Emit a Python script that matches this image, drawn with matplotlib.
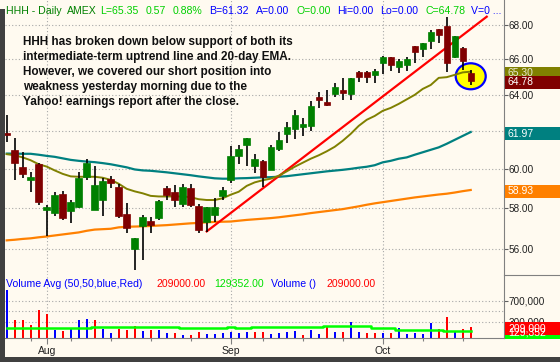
import numpy as np
import pandas as pd
import matplotlib
matplotlib.use("Agg")
import matplotlib.pyplot as plt
from matplotlib.patches import Rectangle, Ellipse
from matplotlib.lines import Line2D
from matplotlib.transforms import IdentityTransform
from matplotlib.ticker import FixedLocator, NullLocator, FuncFormatter

# trading days, Jul 25 - Oct 16 2007 (Labor Day closed)
dates = pd.bdate_range("2007-07-25", "2007-10-16").drop(pd.Timestamp("2007-09-03"))

opens = [61.94, 61.02, 60.13, 59.46, 60.26, 57.94, 57.79, 58.71, 57.89, 58.05,
         59.62, 57.93, 58.43, 59.51, 59.08, 57.73, 56.00, 57.12, 57.38, 57.51,
         59.04, 58.84, 58.21, 59.03, 58.11, 57.31, 57.64, 58.60, 59.42, 60.67,
         61.30, 60.19, 60.43, 59.97, 61.05, 61.87, 62.14, 62.25, 62.30, 63.90,
         63.63, 64.03, 64.28, 64.03, 65.30, 65.30, 65.12, 65.78, 66.12, 65.58,
         65.68, 66.77, 66.58, 67.08, 67.75, 67.94, 66.12, 66.67, 65.24]
highs = [62.90, 61.64, 60.91, 59.88, 60.32, 58.18, 58.85, 58.89, 58.40, 59.87,
         60.55, 60.18, 59.57, 59.66, 59.25, 58.27, 56.55, 57.66, 57.58, 58.43,
         59.14, 59.20, 59.22, 59.25, 58.23, 58.09, 58.52, 59.08, 61.23, 61.28,
         61.67, 60.81, 60.49, 61.28, 61.99, 62.53, 63.17, 62.72, 63.67, 64.18,
         64.28, 64.68, 64.93, 64.95, 65.32, 65.36, 65.46, 66.20, 66.15, 66.01,
         66.12, 66.80, 66.96, 67.71, 67.78, 68.49, 67.35, 66.73, 65.40]
lows = [61.41, 59.45, 59.57, 58.85, 58.18, 56.64, 57.63, 57.43, 57.29, 58.01,
        59.42, 57.90, 57.63, 59.03, 57.54, 56.78, 54.99, 55.44, 56.78, 57.40,
        58.43, 58.06, 58.09, 58.09, 56.77, 56.80, 57.34, 58.43, 59.28, 60.28,
        60.18, 59.83, 59.08, 59.95, 60.98, 61.38, 61.59, 61.76, 62.05, 63.27,
        63.39, 63.87, 63.72, 63.72, 64.72, 64.65, 64.65, 65.17, 65.36, 65.24,
        65.36, 65.78, 66.12, 66.58, 66.93, 65.30, 66.10, 65.40, 64.55]
closes = [61.82, 60.30, 59.73, 59.58, 58.30, 58.08, 58.69, 57.54, 58.32, 59.57,
          60.35, 59.20, 59.37, 59.31, 57.63, 57.02, 56.53, 57.56, 57.18, 58.38,
          58.67, 58.42, 59.08, 58.19, 56.90, 58.08, 58.08, 58.94, 60.67, 61.07,
          61.66, 60.55, 59.62, 61.19, 61.55, 62.23, 62.90, 62.41, 63.39, 63.69,
          63.43, 64.43, 64.12, 64.93, 65.02, 65.02, 65.34, 66.16, 65.68, 65.93,
          66.04, 66.45, 66.93, 67.61, 67.41, 65.81, 67.35, 65.91, 64.78]

ema20 = [60.79, 60.73, 60.62, 60.47, 60.26, 60.14, 59.94, 59.76, 59.63, 59.61,
         59.61, 59.61, 59.56, 59.45, 59.25, 58.99, 58.86, 58.76, 58.63, 58.60,
         58.60, 58.60, 58.60, 58.56, 58.46, 58.42, 58.42, 58.51, 58.69, 58.84,
         59.14, 59.32, 59.43, 59.51, 59.66, 59.89, 60.13, 60.34, 60.55, 60.73,
         60.94, 61.18, 61.50, 61.87, 62.30, 62.63, 62.84, 63.12, 63.28, 63.50,
         63.75, 64.00, 64.33, 64.55, 64.95, 64.99, 65.12, 65.26, 65.30]
sma50 = [60.82, 60.82, 60.81, 60.81, 60.76, 60.70, 60.65, 60.57, 60.49, 60.44,
         60.40, 60.37, 60.32, 60.26, 60.18, 60.10, 59.99, 59.94, 59.92, 59.88,
         59.84, 59.79, 59.74, 59.69, 59.63, 59.58, 59.53, 59.51, 59.51, 59.53,
         59.54, 59.56, 59.58, 59.59, 59.61, 59.64, 59.69, 59.74, 59.79, 59.84,
         59.89, 59.93, 59.97, 60.02, 60.08, 60.13, 60.21, 60.36, 60.44, 60.55,
         60.62, 60.76, 60.89, 61.02, 61.15, 61.34, 61.55, 61.76, 61.97]
sma200 = [56.41, 56.44, 56.48, 56.51, 56.56, 56.60, 56.65, 56.70, 56.75, 56.80,
          56.88, 56.94, 56.96, 56.98, 57.05, 57.08, 57.09, 57.10, 57.12, 57.14,
          57.16, 57.19, 57.22, 57.25, 57.27, 57.30, 57.32, 57.33, 57.34, 57.38,
          57.42, 57.45, 57.48, 57.51, 57.55, 57.60, 57.65, 57.70, 57.76, 57.81,
          57.86, 57.91, 57.96, 58.03, 58.10, 58.18, 58.25, 58.31, 58.37, 58.43,
          58.49, 58.55, 58.60, 58.65, 58.70, 58.74, 58.80, 58.87, 58.93]

trend_x = [25, 60]
trend_y = [56.85, 68.49]

volume = [907000, 334000, 334000, 233000, 523000, 454000, 151000, 120000, 170000, 334000,
          346000, 334000, 170000, 82000, 170000, 139000, 214000, 120000, 139000, 139000,
          95000, 95000, 50000, 50000, 113000, 63000, 63000, 82000, 113000, 95000,
          113000, 113000, 108000, 70000, 83000, 102000, 132000, 51000, 146000, 70000,
          221000, 108000, 108000, 297000, 108000, 95000, 83000, 83000, 95000, 178000,
          70000, 95000, 70000, 284000, 159000, 397000, 121000, 159000, 209000]
vol_up = [1, 0, 0, 0, 0, 0, 1, 0, 1, 1, 1, 0, 1, 1, 0, 0, 0, 1, 0, 1,
          1, 0, 1, 0, 0, 1, 1, 1, 1, 1, 1, 0, 0, 1, 1, 1, 1, 0, 1, 1,
          0, 1, 0, 1, 1, 0, 0, 1, 0, 1, 1, 1, 1, 1, 0, 0, 1, 0, 0]
vol_avg = [178000, 178000, 178000, 178000, 178000, 178000, 178000, 178000, 178000, 178000,
           178000, 208000, 208000, 208000, 208000, 208000, 208000, 208000, 208000, 208000,
           208000, 208000, 178000, 178000, 178000, 178000, 178000, 178000, 208000, 178000,
           178000, 208000, 208000, 208000, 208000, 208000, 208000, 208000, 208000, 208000,
           227000, 227000, 227000, 227000, 227000, 227000, 178000, 178000, 178000, 146000,
           146000, 146000, 146000, 146000, 146000, 132000, 132000, 130000, 129352]

price_ticks = [56, 58, 60, 62, 64, 66, 68]
vol_ticks = [300000, 700000]
vol_grid = [300000, 500000, 700000]
note = ["HHH has broken down below support of both its",
        "intermediate-term uptrend line and 20-day EMA.",
        "However, we covered our short position into",
        "weakness yesterday morning due to the",
        "Yahoo! earnings report after the close."]

W, H = 560, 362
BG = "#fffaf0"
FONT = "Liberation Sans"
GRID = dict(color="#a8a8a8", lw=0.8, linestyle=(0, (1, 2)), zorder=0.5)
plt.rcParams["font.family"] = FONT

fig = plt.figure(figsize=(W / 100, H / 100), dpi=100, facecolor=BG)


def px_axes(x0, y0, x1, y1):
    return fig.add_axes([x0 / W, 1 - y1 / H, (x1 - x0) / W, (y1 - y0) / H])


def ftext(x, y, s, **kw):
    return fig.text(x / W, 1 - y / H, s, **kw)


idx = np.arange(len(dates))
o, h, l, c = map(np.array, (opens, highs, lows, closes))
month_idx = [i for i in range(1, len(dates)) if dates[i].month != dates[i - 1].month]
week_idx = [i for i in range(1, len(dates)) if dates[i].weekday() < dates[i - 1].weekday()]

ax = px_axes(5, 0, 504, 275)
axv = px_axes(5, 275, 504, 337.7)
for a in (ax, axv):
    a.set_facecolor(BG)
    a.set_xlim(-0.21, 62.16)
    for s in ("top", "left"):
        a.spines[s].set_visible(False)
    a.spines["right"].set_color("#808080")
    a.spines["bottom"].set_color("#808080")
    for m in month_idx:
        a.axvline(m, **GRID)
ax.spines["bottom"].set_visible(False)

# price panel
ax.set_yscale("log")
ax.set_ylim(54.74, 69.49)
for t in price_ticks:
    ax.axhline(t, **GRID)
ax.yaxis.tick_right()
ax.yaxis.set_major_locator(FixedLocator(price_ticks))
ax.yaxis.set_minor_locator(NullLocator())
ax.yaxis.set_major_formatter(FuncFormatter(lambda v, p: f"{v:.2f}"))
ax.tick_params(axis="y", length=3, width=0.8, color="#606060", pad=0.5,
               labelsize=7.2, labelcolor="#202020")
ax.set_xticks([])

ax.plot(idx, sma200, color="#ff8000", lw=1.6, zorder=3)
ax.plot(idx, sma50, color="#008080", lw=1.6, zorder=3)
ax.plot(trend_x, trend_y, color="#ff0000", lw=1.6, zorder=3)

# yellow circle round the last bar
cx, cy = ax.transData.transform((58, 65.04))
ax.add_patch(Ellipse((cx, cy), 30, 26, transform=IdentityTransform(),
                     facecolor="#ffff00", edgecolor="#0000ff", lw=1.6, zorder=2.5))
ax.plot(idx, ema20, color="#808000", lw=1.4, zorder=3.5)

up = c >= o
body_col = np.where(up, "#008000", "#800000")
ax.vlines(idx, l, h, color="black", lw=1.2, zorder=4)
ax.bar(idx, np.abs(c - o), bottom=np.minimum(o, c), width=0.8,
       color=body_col, edgecolor=body_col, lw=0.5, zorder=5)

# volume panel
axv.set_ylim(0, 1185000)
for t in vol_grid:
    axv.axhline(t, **GRID)
vcol = ["#0000ff" if u else "#ff0000" for u in vol_up]
axv.bar(idx, volume, width=0.28, color=vcol, zorder=2)
axv.plot(idx, vol_avg, color="#00ff00", lw=1.8, drawstyle="steps-mid", zorder=3)
axv.yaxis.tick_right()
axv.set_yticks(vol_ticks)
axv.yaxis.set_major_formatter(FuncFormatter(lambda v, p: f"{v:,.0f}"))
axv.tick_params(axis="y", length=3, width=0.8, color="#606060", pad=0.5,
                labelsize=7.2, labelcolor="#202020")
axv.set_xticks(month_idx)
axv.set_xticklabels([d.strftime("%b") for d in dates[month_idx]])
axv.set_xticks(week_idx, minor=True)
axv.tick_params(axis="x", which="major", length=4, width=0.8, color="#808080",
                pad=2, labelsize=7.5, labelcolor="#202020")
axv.tick_params(axis="x", which="minor", length=2.2, width=0.8, color="#808080")


def side_label(a, value, text, face, fg):
    y = a.transData.transform((0, value))[1] - 1.5
    fig.add_artist(Rectangle((504.5, y - 6.5), 56, 13, transform=IdentityTransform(),
                             facecolor=face, edgecolor="none", zorder=5))
    fig.text(508 / W, y / H, text, color=fg, fontsize=7.5, va="center", ha="left", zorder=6)


side_label(ax, 65.30, "65.30", "#808000", "#e8e8d0")
side_label(ax, 64.78, "64.78", "#800000", "white")
side_label(ax, 61.97, "61.97", "#008080", "white")
side_label(ax, 58.93, "58.93", "#ff8000", "white")
side_label(axv, 129352, "129,352", "#00ff00", "white")
side_label(axv, 209000, "209,000", "#ff0000", "white")
fig.add_artist(Line2D([504 / W, 1], [1 - 275 / H] * 2, color="#808080", lw=0.8))

# dark frame strips
fig.add_artist(Rectangle((0, 5 / H), 5 / W, 1 - 14 / H, transform=fig.transFigure,
                         facecolor="#404040", edgecolor="none"))
fig.add_artist(Rectangle((0, 0), 1, 5 / H, transform=fig.transFigure,
                         facecolor="#404040", edgecolor="none"))

# header
dk_green, lt_green, blue, red = "#008000", "#00d000", "#0000ff", "#ff0000"
header = [(6, "HHH - Daily", dk_green), (66.7, "AMEX", dk_green),
          (100, "L=65.35", lt_green), (145.3, "0.57", lt_green), (172.7, "0.88%", lt_green),
          (209.3, "B=61.32", blue), (256, "A=0.00", blue), (296.7, "O=0.00", lt_green),
          (337.3, "Hi=0.00", blue), (380, "Lo=0.00", blue), (425.7, "C=64.78", lt_green),
          (470.7, "V=0 ...", blue)]
for x, s, col in header:
    ftext(x, 14.5, s, color=col, fontsize=7.6, va="baseline")

for k, line in enumerate(note):
    ftext(22.7, 44.7 + 15 * k, line, fontsize=8.5, fontweight="bold",
          color="#101010", va="baseline")

vol_head = [(6, "Volume Avg (50,50,blue,Red)", blue), (156.7, "209000.00", red),
            (214, "129352.00", "#00e000"), (270.7, "Volume ()", blue),
            (326.7, "209000.00", red)]
for x, s, col in vol_head:
    ftext(x, 287, s, color=col, fontsize=7.6, va="baseline")

fig.savefig("out.png", dpi=100, facecolor=BG)
